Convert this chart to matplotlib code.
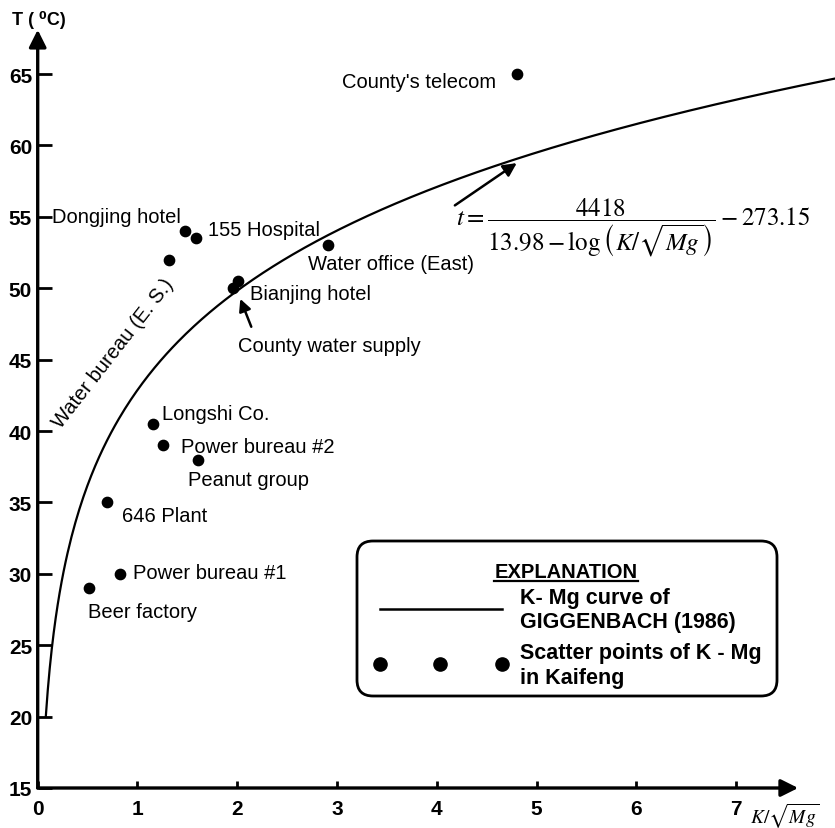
import numpy as np
import matplotlib
matplotlib.use("Agg")
import matplotlib.pyplot as plt
from matplotlib.patches import FancyBboxPatch

plt.rcParams['font.family'] = ['Liberation Sans', 'DejaVu Sans']
plt.rcParams['mathtext.fontset'] = 'stix'

# K/sqrt(Mg) ratio and temperature of each well
sites = ["Dongjing hotel", "155 Hospital", "Water bureau (E. S.)", "Water office (East)",
         "Bianjing hotel", "County water supply", "County's telecom", "Longshi Co.",
         "Power bureau #2", "Peanut group", "646 Plant", "Power bureau #1", "Beer factory"]
k_mg = [1.48, 1.59, 1.32, 2.91, 2.01, 1.96, 4.80, 1.16, 1.26, 1.61, 0.69, 0.82, 0.51]
temp = [54.0, 53.5, 52.0, 53.0, 50.5, 50.0, 65.0, 40.5, 39.0, 38.0, 35.0, 30.0, 29.0]

# where each site name is written (left edge, vertical centre)
label_x = [0.14, 1.71, 0.76, 2.71, 2.13, 2.01, 3.05, 1.25, 1.44, 1.51, 0.84, 0.95, 0.50]
label_y = [55.0, 54.1, 45.5, 51.7, 49.6, 46.0, 64.5, 41.2, 38.9, 36.6, 34.1, 30.1, 27.35]

x_ticks = [0, 1, 2, 3, 4, 5, 6, 7]
y_ticks = [15, 20, 25, 30, 35, 40, 45, 50, 55, 60, 65]


def giggenbach(ratio):
    return 4418.0 / (13.98 - np.log10(ratio)) - 273.15


W, H = 835, 829
fig = plt.figure(figsize=(W / 100, H / 100), dpi=100)
ax = fig.add_axes([37.7 / W, 40 / H, 796.4 / W, 765.4 / H])
ax.set_xlim(0, 7.98)
ax.set_ylim(15, 68.6)
for s in ax.spines.values():
    s.set_visible(False)

# axes drawn as arrows
ax.annotate('', xy=(7.62, 15), xytext=(0, 15),
            arrowprops=dict(arrowstyle='-|>', lw=2.4, color='black', mutation_scale=26,
                            shrinkA=0, shrinkB=0), annotation_clip=False)
ax.annotate('', xy=(0, 68.1), xytext=(0, 15),
            arrowprops=dict(arrowstyle='-|>', lw=2.4, color='black', mutation_scale=26,
                            shrinkA=0, shrinkB=0), annotation_clip=False)

ax.set_xticks(x_ticks)
ax.set_yticks(y_ticks)
ax.tick_params(axis='y', direction='in', length=10, width=2, pad=4, labelsize=15)
ax.tick_params(axis='x', direction='in', length=5, width=2, pad=8, labelsize=15)
for lab in ax.get_xticklabels() + ax.get_yticklabels():
    lab.set_fontweight('bold')

# Giggenbach (1986) K-Mg geothermometer curve, starting at 20 degC
x0 = 10 ** (13.98 - 4418.0 / (20 + 273.15))
xs = np.linspace(x0, 7.98, 400)
ax.plot(xs, giggenbach(xs), color='black', lw=1.6, clip_on=False)

ax.scatter(k_mg, temp, s=55, color='black', zorder=3)

for name, lx, ly in zip(sites, label_x, label_y):
    if name == "Water bureau (E. S.)":
        ax.text(lx, ly, name, rotation=52, ha='center', va='center', fontsize=14.5)
    else:
        ax.text(lx, ly, name, ha='left', va='center', fontsize=14.5)

# arrow to the county water supply point
ax.annotate('', xy=(2.03, 49.25), xytext=(2.14, 47.3),
            arrowprops=dict(arrowstyle='-|>', lw=1.8, color='black', mutation_scale=18,
                            shrinkA=0, shrinkB=0))

# equation of the curve with an arrow pointing at it
ax.annotate('', xy=(4.80, giggenbach(4.80) - 0.3), xytext=(4.18, 55.8),
            arrowprops=dict(arrowstyle='-|>', lw=1.8, color='black', mutation_scale=20,
                            shrinkA=0, shrinkB=0))
ax.text(4.19, 54.3,
        r"$t=\dfrac{4418}{13.98-\log\left(K/\sqrt{Mg}\right)}-273.15$",
        ha='left', va='center', fontsize=18)

fig.text(12 / W, 1 - 20 / H, "T ( \u2070C)", ha='left', va='center',
         fontsize=13, fontweight='bold')
fig.text(750 / W, 1 - 816 / H, r"$K/\sqrt{Mg}$", ha='left', va='center', fontsize=14)

# explanation box
box = FancyBboxPatch((3.57, 1.32), 4.20, 1.55,
                     boxstyle="round,pad=0,rounding_size=0.16",
                     transform=fig.dpi_scale_trans, facecolor='white',
                     edgecolor='black', lw=2.0, zorder=4)
fig.add_artist(box)


def fx(px):
    return px / W


def fy(py):
    return 1 - py / H


title = fig.text(fx(566), fy(573), "EXPLANATION", ha='center', va='center',
                 fontsize=14.5, fontweight='bold', zorder=5)
fig.canvas.draw()
bb = title.get_window_extent().transformed(fig.transFigure.inverted())
fig.add_artist(plt.Line2D([bb.x0, bb.x1], [fy(582), fy(582)], color='black',
                          lw=1.6, transform=fig.transFigure, zorder=5))

fig.add_artist(plt.Line2D([fx(380), fx(502)], [fy(610), fy(610)], color='black',
                          lw=1.8, transform=fig.transFigure, zorder=5))
fig.text(fx(520), fy(599), "K- Mg curve of", ha='left', va='center',
         fontsize=15.5, fontweight='bold', zorder=5)
fig.text(fx(520), fy(623), "GIGGENBACH (1986)", ha='left', va='center',
         fontsize=15.5, fontweight='bold', zorder=5)
fig.add_artist(plt.Line2D([fx(380), fx(440), fx(502)], [fy(665)] * 3, ls='none',
                          marker='o', markersize=9.5, color='black',
                          transform=fig.transFigure, zorder=5))
fig.text(fx(520), fy(654), "Scatter points of K - Mg", ha='left', va='center',
         fontsize=15.5, fontweight='bold', zorder=5)
fig.text(fx(520), fy(679), "in Kaifeng", ha='left', va='center',
         fontsize=15.5, fontweight='bold', zorder=5)

fig.savefig("out.png", dpi=100)
